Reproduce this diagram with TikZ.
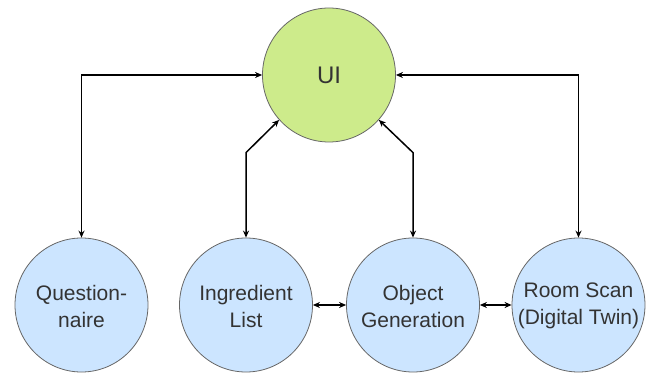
\documentclass[tikz,border=0pt]{standalone}
\usepackage{fontspec}
\setmainfont{Liberation Sans}
\usetikzlibrary{shapes.geometric,arrows.meta}
\definecolor{uigreen}{HTML}{CDEB8B}
\definecolor{nodeblue}{HTML}{CCE5FF}
\definecolor{edgegray}{HTML}{666666}
\begin{document}
\begin{tikzpicture}[x=1pt,y=-1pt,
  bubble/.style={ellipse,draw=edgegray,line width=0.8pt,inner sep=0pt,
    minimum width=133pt,minimum height=134pt},
  btext/.style={align=center,font=\fontsize{21}{27}\selectfont,text=black!80},
  link/.style={line width=1.5pt,{Stealth[length=7pt,width=6pt]}-{Stealth[length=7pt,width=6pt]}}]
\useasboundingbox (0,0) rectangle (651,374);
\node[bubble,fill=uigreen,label={[font=\fontsize{24}{28}\selectfont,text=black!80]center:UI}] (ui) at (329,75) {};
\node[bubble,fill=nodeblue,label={[btext,yshift=-1pt]center:Question-\\naire}] (q) at (81.5,305) {};
\node[bubble,fill=nodeblue,label={[btext,yshift=-1pt]center:Ingredient\\List}] (ing) at (246,305) {};
\node[bubble,fill=nodeblue,label={[btext,yshift=-1pt]center:Object\\Generation}] (obj) at (413,305) {};
\node[bubble,fill=nodeblue,label={[btext,yshift=-1pt]center:Room Scan\\(Digital Twin)}] (room) at (578.5,305) {};
\draw[link] (q.north) |- (ui.west);
\draw[link] (room.north) |- (ui.east);
\draw[link] (ing.north) -- ++(0,-85) -- (ui.222);
\draw[link] (obj.north) -- ++(0,-85) -- (ui.318);
\draw[link] (ing.east) -- (obj.west);
\draw[link] (obj.east) -- (room.west);
\end{tikzpicture}
\end{document}
